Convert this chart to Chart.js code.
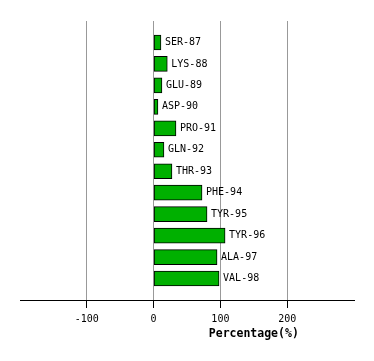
<!DOCTYPE html>
<html>
<head>
<meta charset="utf-8">
<script src="https://cdn.jsdelivr.net/npm/chart.js@4/dist/chart.umd.min.js"></script>
<style>
html,body{margin:0;padding:0;background:#fff;}
#wrap{width:374px;height:361px;}
</style>
</head>
<body>
<div id="wrap"><canvas id="c" width="374" height="361"></canvas></div>
<script>
const categories = ['SER-87','LYS-88','GLU-89','ASP-90','PRO-91','GLN-92','THR-93','PHE-94','TYR-95','TYR-96','ALA-97','VAL-98'];
const values = [11, 20.5, 12.5, 6.5, 33.5, 15.5, 27.5, 72.5, 80, 107, 95, 98];
const tickValues = [-100, 0, 100, 200];
const axisTitle = 'Percentage(%)';

const labelPlugin = {
  id: 'barLabels',
  afterDatasetsDraw(chart) {
    const ctx = chart.ctx;
    const meta = chart.getDatasetMeta(0);
    ctx.save();
    ctx.font = '10px "DejaVu Sans Mono", monospace';
    ctx.fillStyle = '#000';
    ctx.textAlign = 'left';
    ctx.textBaseline = 'middle';
    meta.data.forEach((bar, i) => {
      ctx.fillText(categories[i], bar.x + 4, bar.y);
    });
    ctx.restore();
  },
  afterDraw(chart) {
    const ctx = chart.ctx;
    const xs = chart.scales.x;
    ctx.save();
    ctx.font = 'bold 11.5px "DejaVu Sans Mono", monospace';
    ctx.fillStyle = '#000';
    ctx.textAlign = 'center';
    ctx.textBaseline = 'middle';
    ctx.fillText(axisTitle, xs.getPixelForValue(150), 334);
    ctx.restore();
  }
};

new Chart(document.getElementById('c'), {
  type: 'bar',
  data: {
    datasets: [{
      data: categories.map((c, i) => ({ x: values[i], y: i })),
      backgroundColor: '#00b000',
      borderColor: '#000',
      borderWidth: 1,
      borderSkipped: false,
      barThickness: 15
    }]
  },
  options: {
    indexAxis: 'y',
    responsive: false,
    animation: false,
    devicePixelRatio: 1,
    layout: { padding: { left: 20, right: 20, top: 21, bottom: 0 } },
    plugins: { legend: { display: false }, tooltip: { enabled: false } },
    scales: {
      y: {
        type: 'linear',
        min: -1,
        max: 12,
        offset: false,
        grace: 0,
        reverse: true,
        display: false
      },
      x: {
        type: 'linear',
        min: -200,
        max: 300,
        afterBuildTicks: s => { s.ticks = tickValues.map(v => ({ value: v })); },
        afterFit: s => { s.height = 61; },
        border: { display: true, color: '#000', width: 1 },
        grid: {
          color: '#999999',
          lineWidth: 1,
          tickColor: '#000',
          tickLength: 8,
          drawOnChartArea: true
        },
        ticks: {
          color: '#000',
          font: { family: '"DejaVu Sans Mono", monospace', size: 10 },
          padding: 5,
          maxRotation: 0,
          autoSkip: false
        }
      }
    }
  },
  plugins: [labelPlugin]
});
</script>
</body>
</html>
